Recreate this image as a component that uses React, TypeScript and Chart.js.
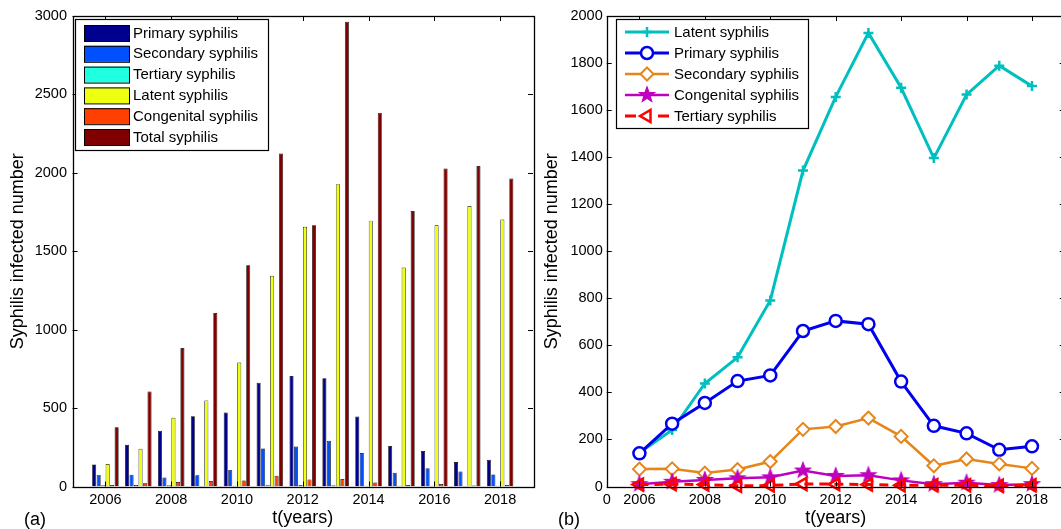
import { useEffect, useRef } from 'react';
import { Chart, registerables } from 'chart.js';

Chart.register(...registerables);

const FONT = "'Liberation Sans', Arial, Helvetica, sans-serif";

// ---------- data ----------
const years = [2006, 2007, 2008, 2009, 2010, 2011, 2012, 2013, 2014, 2015, 2016, 2017, 2018];
const primary = [141, 267, 355, 448, 472, 661, 704, 690, 446, 258, 226, 156, 171];
const secondary = [74, 75, 57, 72, 106, 243, 255, 291, 213, 88, 117, 96, 77];
const tertiary = [8, 10, 8, 3, 4, 11, 10, 8, 5, 5, 5, 3, 5];
const latent = [143, 240, 438, 549, 791, 1343, 1656, 1928, 1695, 1396, 1666, 1789, 1702];
const congenital = [10, 20, 28, 35, 39, 68, 45, 48, 26, 10, 16, 6, 10];
const total = [377, 606, 883, 1106, 1410, 2123, 1665, 2963, 2382, 1757, 2027, 2044, 1964];

const barXTicks = [2006, 2008, 2010, 2012, 2014, 2016, 2018];
const barXTickLabels = ['2006', '2008', '2010', '2012', '2014', '2016', '2018'];
const barYTicks = [0, 500, 1000, 1500, 2000, 2500, 3000];
const lineXTicks = [2005, 2006, 2008, 2010, 2012, 2014, 2016, 2018];
const lineXTickLabels = ['0', '2006', '2008', '2010', '2012', '2014', '2016', '2018'];
const lineYTicks = [0, 200, 400, 600, 800, 1000, 1200, 1400, 1600, 1800, 2000];

const pts = (vals: number[]) => years.map((x, i) => ({ x, y: vals[i] }));

// ---------- plugins ----------
const framePlugin = {
  id: 'frame',
  afterDraw(chart: any) {
    const { ctx, chartArea: a, scales } = chart;
    const L = 5;
    ctx.save();
    ctx.strokeStyle = '#000';
    ctx.lineWidth = 1;
    ctx.setLineDash([]);
    ctx.beginPath();
    for (const t of scales.x.ticks) {
      const p = Math.round(scales.x.getPixelForValue(t.value)) + 0.5;
      ctx.moveTo(p, a.bottom);
      ctx.lineTo(p, a.bottom - L);
      ctx.moveTo(p, a.top);
      ctx.lineTo(p, a.top + L);
    }
    for (const t of scales.y.ticks) {
      const p = Math.round(scales.y.getPixelForValue(t.value)) + 0.5;
      ctx.moveTo(a.left, p);
      ctx.lineTo(a.left + L, p);
      ctx.moveTo(a.right, p);
      ctx.lineTo(a.right - L, p);
    }
    ctx.stroke();
    ctx.lineWidth = 1.3;
    ctx.strokeRect(Math.round(a.left) + 0.5, Math.round(a.top) + 0.5, Math.round(a.right - a.left), Math.round(a.bottom - a.top));
    ctx.restore();
  },
};

function drawMarker(ctx: CanvasRenderingContext2D, ds: any, x: number, y: number) {
  const style = ds.pointStyle;
  const r = ds.pointRadius;
  ctx.save();
  ctx.setLineDash([]);
  ctx.strokeStyle = ds.pointBorderColor || ds.borderColor;
  ctx.fillStyle = ds.pointBackgroundColor || 'rgba(0,0,0,0)';
  ctx.lineWidth = ds.pointBorderWidth;
  if (typeof style !== 'string') {
    ctx.drawImage(style, x - style.width / 2, y - style.height / 2);
  } else if (style === 'cross') {
    ctx.beginPath();
    ctx.moveTo(x - r, y);
    ctx.lineTo(x + r, y);
    ctx.moveTo(x, y - r);
    ctx.lineTo(x, y + r);
    ctx.stroke();
  } else if (style === 'circle') {
    ctx.beginPath();
    ctx.arc(x, y, r, 0, Math.PI * 2);
    ctx.fill();
    ctx.stroke();
  } else if (style === 'rectRot') {
    ctx.beginPath();
    ctx.moveTo(x, y - r);
    ctx.lineTo(x + r, y);
    ctx.lineTo(x, y + r);
    ctx.lineTo(x - r, y);
    ctx.closePath();
    ctx.fill();
    ctx.stroke();
  } else if (style === 'triangle') {
    let rad = ((ds.pointRotation || 0) * Math.PI) / 180;
    ctx.beginPath();
    for (let i = 0; i < 3; i++) {
      const px = x + Math.sin(rad) * r;
      const py = y - Math.cos(rad) * r;
      if (i === 0) ctx.moveTo(px, py);
      else ctx.lineTo(px, py);
      rad += (2 * Math.PI) / 3;
    }
    ctx.closePath();
    ctx.fill();
    ctx.stroke();
  }
  ctx.restore();
}

function makeLegendPlugin(cfg: { x: number; y: number; w: number; h: number; row0: number; rowH: number; kind: 'bar' | 'line' }) {
  return {
    id: 'boxLegend',
    afterDraw(chart: any) {
      const ctx: CanvasRenderingContext2D = chart.ctx;
      ctx.save();
      ctx.fillStyle = '#fff';
      ctx.fillRect(cfg.x, cfg.y, cfg.w, cfg.h);
      ctx.strokeStyle = '#000';
      ctx.lineWidth = 1.2;
      ctx.strokeRect(cfg.x + 0.5, cfg.y + 0.5, cfg.w, cfg.h);
      ctx.font = `15px ${FONT}`;
      ctx.textBaseline = 'middle';
      chart.data.datasets.forEach((ds: any, i: number) => {
        const cy = cfg.row0 + i * cfg.rowH;
        if (cfg.kind === 'bar') {
          ctx.fillStyle = ds.backgroundColor;
          ctx.fillRect(cfg.x + 9, cy - 8, 45, 16);
          ctx.strokeStyle = '#000';
          ctx.lineWidth = 1;
          ctx.strokeRect(cfg.x + 9.5, cy - 7.5, 45, 16);
          ctx.fillStyle = '#000';
          ctx.fillText(ds.label, cfg.x + 58, cy + 0.5);
        } else {
          const x0 = cfg.x + 9;
          const x1 = cfg.x + 53;
          ctx.strokeStyle = ds.borderColor;
          ctx.lineWidth = ds.borderWidth;
          ctx.beginPath();
          if (ds.borderDash && ds.borderDash.length) {
            ctx.moveTo(x0, cy);
            ctx.lineTo(x0 + 11, cy);
            ctx.moveTo(x1 - 11, cy);
            ctx.lineTo(x1, cy);
          } else {
            ctx.moveTo(x0, cy);
            ctx.lineTo(x1, cy);
          }
          ctx.stroke();
          drawMarker(ctx, ds, (x0 + x1) / 2, cy);
          ctx.fillStyle = '#000';
          ctx.fillText(ds.label, cfg.x + 58, cy + 0.5);
        }
      });
      ctx.restore();
    },
  };
}

function makeStar(color: string, R: number) {
  const size = Math.ceil(R * 2 + 4);
  const c = document.createElement('canvas');
  c.width = size;
  c.height = size;
  const g = c.getContext('2d')!;
  const cx = size / 2;
  const cy = size / 2;
  const r = R * 0.42;
  g.beginPath();
  for (let i = 0; i < 10; i++) {
    const ang = -Math.PI / 2 + (i * Math.PI) / 5;
    const rr = i % 2 === 0 ? R : r;
    g.lineTo(cx + rr * Math.cos(ang), cy + rr * Math.sin(ang));
  }
  g.closePath();
  g.fillStyle = color;
  g.fill();
  g.strokeStyle = color;
  g.lineWidth = 1.2;
  g.stroke();
  return c;
}

const tickFont = { size: 14.5, family: FONT };
const titleFont = { size: 18, family: FONT };

function xScale(ticksArr: number[], labels: string[], min: number, max: number) {
  return {
    type: 'linear',
    min,
    max,
    offset: false,
    grid: { display: false, drawTicks: false },
    border: { display: false },
    afterBuildTicks: (s: any) => {
      s.ticks = ticksArr.map((v) => ({ value: v }));
    },
    afterFit: (s: any) => {
      s.height = 42.5;
    },
    ticks: {
      autoSkip: false,
      maxRotation: 0,
      padding: 5,
      color: '#000',
      font: tickFont,
      callback: (_v: any, i: number) => labels[i],
    },
    title: { display: true, text: 't(years)', color: '#000', font: titleFont, padding: { top: 0, bottom: 0 } },
  };
}

function yScale(ticksArr: number[], max: number, width: number, tickPad: number, titlePad: number) {
  return {
    type: 'linear',
    min: 0,
    max,
    grid: { display: false, drawTicks: false },
    border: { display: false },
    afterBuildTicks: (s: any) => {
      s.ticks = ticksArr.map((v) => ({ value: v }));
    },
    afterFit: (s: any) => {
      s.width = width;
    },
    ticks: {
      padding: tickPad,
      color: '#000',
      font: tickFont,
      callback: (v: any) => String(v),
    },
    title: {
      display: true,
      text: 'Syphilis infected number',
      color: '#000',
      font: titleFont,
      padding: { top: titlePad, bottom: 0 },
    },
  };
}

export default function App() {
  const leftRef = useRef<HTMLCanvasElement>(null);
  const rightRef = useRef<HTMLCanvasElement>(null);

  useEffect(() => {
    Chart.defaults.font.family = FONT;
    const barCommon = { borderColor: '#000', borderWidth: 0.7, categoryPercentage: 0.82, barPercentage: 0.9 };
    const c1 = new Chart(leftRef.current as HTMLCanvasElement, {
      type: 'bar',
      data: {
        datasets: [
          { label: 'Primary syphilis', data: pts(primary), backgroundColor: '#00008F', ...barCommon },
          { label: 'Secondary syphilis', data: pts(secondary), backgroundColor: '#0050FF', ...barCommon },
          { label: 'Tertiary syphilis', data: pts(tertiary), backgroundColor: '#20FFDF', ...barCommon },
          { label: 'Latent syphilis', data: pts(latent), backgroundColor: '#EFFF10', ...barCommon },
          { label: 'Congenital syphilis', data: pts(congenital), backgroundColor: '#FF4000', ...barCommon },
          { label: 'Total syphilis', data: pts(total), backgroundColor: '#800000', ...barCommon },
        ] as any,
      },
      options: {
        responsive: false,
        animation: false,
        events: [],
        layout: { padding: { top: 16, right: 7, bottom: 0, left: 0 } },
        plugins: { legend: { display: false }, tooltip: { enabled: false } },
        scales: {
          x: xScale(barXTicks, barXTickLabels, 2005, 2019) as any,
          y: yScale(barYTicks, 3000, 72.5, 5.5, 7.5) as any,
        },
      },
      plugins: [framePlugin, makeLegendPlugin({ x: 75, y: 19, w: 193, h: 131, row0: 33, rowH: 20.8, kind: 'bar' })],
    });

    const star = makeStar('#BF00BF', 8);
    const c2 = new Chart(rightRef.current as HTMLCanvasElement, {
      type: 'line',
      data: {
        datasets: [
          {
            label: 'Latent syphilis', data: pts(latent), borderColor: '#00BFBF', borderWidth: 3,
            pointStyle: 'cross', pointRadius: 5, pointBorderWidth: 2.5, pointBorderColor: '#00BFBF',
            pointBackgroundColor: '#00BFBF', order: 5, clip: false,
          },
          {
            label: 'Primary syphilis', data: pts(primary), borderColor: '#0000EE', borderWidth: 3,
            pointStyle: 'circle', pointRadius: 6, pointBorderWidth: 2.5, pointBorderColor: '#0000EE',
            pointBackgroundColor: '#FFFFFF', order: 4, clip: false,
          },
          {
            label: 'Secondary syphilis', data: pts(secondary), borderColor: '#E6861A', borderWidth: 2.5,
            pointStyle: 'rectRot', pointRadius: 6.5, pointBorderWidth: 2, pointBorderColor: '#E6861A',
            pointBackgroundColor: '#FFFFFF', order: 3, clip: false,
          },
          {
            label: 'Congenital syphilis', data: pts(congenital), borderColor: '#BF00BF', borderWidth: 2.5,
            pointStyle: star, pointRadius: 8, pointBorderWidth: 1, pointBorderColor: '#BF00BF',
            pointBackgroundColor: '#BF00BF', order: 2, clip: false,
          },
          {
            label: 'Tertiary syphilis', data: pts(tertiary), borderColor: '#FF0000', borderWidth: 3,
            borderDash: [9, 6], pointStyle: 'triangle', pointRotation: -90, pointRadius: 7,
            pointBorderWidth: 2.5, pointBorderColor: '#FF0000', pointBackgroundColor: 'rgba(255,255,255,0)',
            order: 1, clip: false,
          },
        ] as any,
      },
      options: {
        responsive: false,
        animation: false,
        events: [],
        layout: { padding: { top: 16, right: 15.3, bottom: 0, left: 0 } },
        plugins: { legend: { display: false }, tooltip: { enabled: false } },
        scales: {
          x: xScale(lineXTicks, lineXTickLabels, 2005, 2019) as any,
          y: yScale(lineYTicks, 2000, 66.7, 4, 1.7) as any,
        },
      },
      plugins: [framePlugin, makeLegendPlugin({ x: 76, y: 19, w: 192, h: 109, row0: 32, rowH: 21, kind: 'line' })],
    });

    return () => {
      c1.destroy();
      c2.destroy();
    };
  }, []);

  return (
    <div
      style={{
        position: 'fixed', left: 0, top: 0, width: 1061, height: 529, overflow: 'hidden',
        background: '#fff', fontFamily: FONT, color: '#000',
      }}
    >
      <canvas ref={leftRef} width={540} height={529} style={{ position: 'absolute', left: 0, top: 0 }} />
      <canvas ref={rightRef} width={540} height={529} style={{ position: 'absolute', left: 540, top: 0 }} />
      <div style={{ position: 'absolute', left: 24, top: 509, fontSize: 18, lineHeight: '21px' }}>(a)</div>
      <div style={{ position: 'absolute', left: 558, top: 509, fontSize: 18, lineHeight: '21px' }}>(b)</div>
    </div>
  );
}
